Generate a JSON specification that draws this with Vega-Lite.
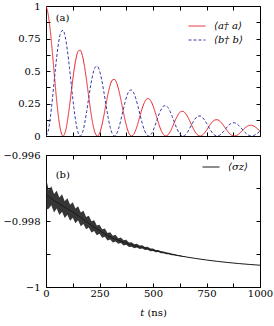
{
  "$schema": "https://vega.github.io/schema/vega-lite/v6.json",
  "padding": {"left": 2, "top": 0, "right": 13, "bottom": 6},
  "spacing": 7,
  "resolve": {"scale": {"color": "independent", "strokeDash": "independent"}, "legend": {"color": "independent", "strokeDash": "independent"}},
  "config": {
    "font": "DejaVu Serif",
    "view": {"stroke": "black", "strokeWidth": 1},
    "axis": {"domain": false, "grid": false, "ticks": true, "tickSize": -4, "tickColor": "black", "tickWidth": 1, "labelFont": "DejaVu Serif", "labelFontSize": 10, "labelColor": "black", "labelPadding": 5, "labelFlush": false, "labelOverlap": false, "labelBound": false, "titleFont": "DejaVu Serif", "titleFontSize": 10, "titleFontWeight": "normal", "titleColor": "black"},
    "axisLeft": {"labelPadding": 10},
    "legend": {"labelFont": "DejaVu Serif", "labelFontSize": 10, "labelColor": "black", "labelFontStyle": "italic", "symbolType": "stroke", "symbolSize": 289, "symbolStrokeWidth": 1, "orient": "none", "padding": 0, "rowPadding": -6, "labelOffset": 8, "title": null}
  },
  "vconcat": [
    {
      "width": 214,
      "height": 130,
      "resolve": {"axis": {"x": "independent", "y": "independent"}},
      "layer": [
        {
          "data": {"values": [
            {"t":0,"a":1,"b":0},{"t":10,"a":0.9373,"b":0.0371},{"t":20,"a":0.8103,"b":0.139},{"t":30,"a":0.6395,"b":0.2855},{"t":40,"a":0.4507,"b":0.4507},{"t":50,"a":0.2711,"b":0.6072},{"t":60,"a":0.1253,"b":0.7304},{"t":70,"a":0.0317,"b":0.802},{"t":80,"a":0,"b":0.8124},{"t":90,"a":0.0301,"b":0.7614},
            {"t":100,"a":0.113,"b":0.6583},{"t":110,"a":0.232,"b":0.5196},{"t":120,"a":0.3661,"b":0.3661},{"t":130,"a":0.4933,"b":0.2202},{"t":140,"a":0.5934,"b":0.1018},{"t":150,"a":0.6516,"b":0.0258},{"t":160,"a":0.66,"b":0},{"t":170,"a":0.6186,"b":0.0245},{"t":180,"a":0.5348,"b":0.0918},{"t":190,"a":0.4221,"b":0.1885},
            {"t":200,"a":0.2974,"b":0.2974},{"t":210,"a":0.1789,"b":0.4007},{"t":220,"a":0.0827,"b":0.4821},{"t":230,"a":0.0209,"b":0.5294},{"t":240,"a":0,"b":0.5362},{"t":250,"a":0.0199,"b":0.5026},{"t":260,"a":0.0746,"b":0.4345},{"t":270,"a":0.1531,"b":0.3429},{"t":280,"a":0.2416,"b":0.2416},{"t":290,"a":0.3256,"b":0.1453},
            {"t":300,"a":0.3916,"b":0.0672},{"t":310,"a":0.43,"b":0.017},{"t":320,"a":0.4356,"b":0},{"t":330,"a":0.4083,"b":0.0162},{"t":340,"a":0.353,"b":0.0606},{"t":350,"a":0.2786,"b":0.1244},{"t":360,"a":0.1963,"b":0.1963},{"t":370,"a":0.1181,"b":0.2645},{"t":380,"a":0.0546,"b":0.3182},{"t":390,"a":0.0138,"b":0.3494},
            {"t":400,"a":0,"b":0.3539},{"t":410,"a":0.0131,"b":0.3317},{"t":420,"a":0.0492,"b":0.2868},{"t":430,"a":0.101,"b":0.2263},{"t":440,"a":0.1595,"b":0.1595},{"t":450,"a":0.2149,"b":0.0959},{"t":460,"a":0.2585,"b":0.0444},{"t":470,"a":0.2838,"b":0.0112},{"t":480,"a":0.2875,"b":0},{"t":490,"a":0.2695,"b":0.0107},
            {"t":500,"a":0.233,"b":0.04},{"t":510,"a":0.1839,"b":0.0821},{"t":520,"a":0.1296,"b":0.1296},{"t":530,"a":0.0779,"b":0.1746},{"t":540,"a":0.036,"b":0.21},{"t":550,"a":0.0091,"b":0.2306},{"t":560,"a":0,"b":0.2336},{"t":570,"a":0.0087,"b":0.2189},{"t":580,"a":0.0325,"b":0.1893},{"t":590,"a":0.0667,"b":0.1494},
            {"t":600,"a":0.1053,"b":0.1053},{"t":610,"a":0.1418,"b":0.0633},{"t":620,"a":0.1706,"b":0.0293},{"t":630,"a":0.1873,"b":0.0074},{"t":640,"a":0.1898,"b":0},{"t":650,"a":0.1779,"b":0.007},{"t":660,"a":0.1538,"b":0.0264},{"t":670,"a":0.1214,"b":0.0542},{"t":680,"a":0.0855,"b":0.0855},{"t":690,"a":0.0514,"b":0.1152},
            {"t":700,"a":0.0238,"b":0.1386},{"t":710,"a":0.006,"b":0.1522},{"t":720,"a":0,"b":0.1542},{"t":730,"a":0.0057,"b":0.1445},{"t":740,"a":0.0214,"b":0.1249},{"t":750,"a":0.044,"b":0.0986},{"t":760,"a":0.0695,"b":0.0695},{"t":770,"a":0.0936,"b":0.0418},{"t":780,"a":0.1126,"b":0.0193},{"t":790,"a":0.1236,"b":0.0049},
            {"t":800,"a":0.1252,"b":0},{"t":810,"a":0.1174,"b":0.0046},{"t":820,"a":0.1015,"b":0.0174},{"t":830,"a":0.0801,"b":0.0358},{"t":840,"a":0.0564,"b":0.0564},{"t":850,"a":0.034,"b":0.076},{"t":860,"a":0.0157,"b":0.0915},{"t":870,"a":0.004,"b":0.1004},{"t":880,"a":0,"b":0.1017},{"t":890,"a":0.0038,"b":0.0954},
            {"t":900,"a":0.0142,"b":0.0824},{"t":910,"a":0.0291,"b":0.0651},{"t":920,"a":0.0459,"b":0.0459},{"t":930,"a":0.0618,"b":0.0276},{"t":940,"a":0.0743,"b":0.0128},{"t":950,"a":0.0816,"b":0.0032},{"t":960,"a":0.0827,"b":0},{"t":970,"a":0.0775,"b":0.0031},{"t":980,"a":0.067,"b":0.0115},{"t":990,"a":0.0529,"b":0.0236},
            {"t":1000,"a":0.0373,"b":0.0373}
          ]},
          "transform": [{"fold": ["a", "b"], "as": ["key", "value"]}],
          "mark": {"type": "line", "strokeWidth": 1, "interpolate": "monotone", "clip": true},
          "encoding": {
            "x": {"field": "t", "type": "quantitative", "scale": {"domain": [0, 1000], "nice": false},
                  "axis": {"orient": "bottom", "values": [0,125,250,375,500,625,750,875,1000], "labels": false, "title": null}},
            "y": {"field": "value", "type": "quantitative", "scale": {"domain": [0, 1], "nice": false},
                  "axis": {"orient": "left", "values": [0,0.125,0.25,0.375,0.5,0.625,0.75,0.875,1], "labelExpr": "round(datum.value*8) % 2 == 0 ? format(datum.value, '~g') : ''", "title": null}},
            "color": {"field": "key", "type": "nominal", "scale": {"domain": ["a", "b"], "range": ["#e8202a", "#3a3aa6"]},
                      "legend": {"labelExpr": "datum.label == 'a' ? '⟨a† a⟩' : '⟨b† b⟩'", "legendX": 142, "legendY": 11}},
            "strokeDash": {"field": "key", "type": "nominal", "scale": {"domain": ["a", "b"], "range": [[1, 0], [3, 2]]},
                      "legend": {"labelExpr": "datum.label == 'a' ? '⟨a† a⟩' : '⟨b† b⟩'", "legendX": 142, "legendY": 11}}
          }
        },
        {
          "data": {"values": [{"label": "(a)"}]},
          "mark": {"type": "text", "align": "left", "baseline": "middle", "fontSize": 10, "font": "DejaVu Serif", "color": "black"},
          "encoding": {
            "text": {"field": "label"},
            "x": {"datum": 45, "type": "quantitative", "scale": {"domain": [0, 1000], "nice": false},
                  "axis": {"orient": "top", "values": [0,125,250,375,500,625,750,875,1000], "labels": false, "title": null}},
            "y": {"datum": 0.905, "type": "quantitative", "scale": {"domain": [0, 1], "nice": false},
                  "axis": {"orient": "right", "values": [0,0.125,0.25,0.375,0.5,0.625,0.75,0.875,1], "labels": false, "title": null}}
          }
        }
      ]
    },
    {
      "width": 214,
      "height": 132,
      "resolve": {"axis": {"x": "independent", "y": "independent"}},
      "layer": [
        {
          "data": {"values": [
            {"t":0,"hi":-0.9967,"lo":-0.99765},
            {"t":12.5,"hi":-0.99706,"lo":-0.99763},
            {"t":25,"hi":-0.99695,"lo":-0.99752},
            {"t":37.5,"hi":-0.99718,"lo":-0.99774},
            {"t":50,"hi":-0.99708,"lo":-0.99762},
            {"t":62.5,"hi":-0.99729,"lo":-0.99782},
            {"t":75,"hi":-0.99719,"lo":-0.99772},
            {"t":87.5,"hi":-0.9974,"lo":-0.99791},
            {"t":100,"hi":-0.99731,"lo":-0.99781},
            {"t":112.5,"hi":-0.99751,"lo":-0.99799},
            {"t":125,"hi":-0.99743,"lo":-0.9979},
            {"t":137.5,"hi":-0.99762,"lo":-0.99807},
            {"t":150,"hi":-0.99755,"lo":-0.99798},
            {"t":162.5,"hi":-0.99774,"lo":-0.99816},
            {"t":175,"hi":-0.99769,"lo":-0.99809},
            {"t":187.5,"hi":-0.99788,"lo":-0.99825},
            {"t":200,"hi":-0.99784,"lo":-0.9982},
            {"t":212.5,"hi":-0.99801,"lo":-0.99835},
            {"t":225,"hi":-0.99798,"lo":-0.9983},
            {"t":237.5,"hi":-0.99814,"lo":-0.99843},
            {"t":250,"hi":-0.99811,"lo":-0.99839},
            {"t":262.5,"hi":-0.99825,"lo":-0.99851},
            {"t":275,"hi":-0.99823,"lo":-0.99848},
            {"t":287.5,"hi":-0.99836,"lo":-0.99859},
            {"t":300,"hi":-0.99834,"lo":-0.99856},
            {"t":312.5,"hi":-0.99845,"lo":-0.99865},
            {"t":325,"hi":-0.99842,"lo":-0.99862},
            {"t":337.5,"hi":-0.99852,"lo":-0.99869},
            {"t":350,"hi":-0.9985,"lo":-0.99867},
            {"t":362.5,"hi":-0.99858,"lo":-0.99874},
            {"t":375,"hi":-0.99857,"lo":-0.99872},
            {"t":387.5,"hi":-0.99865,"lo":-0.99879},
            {"t":400,"hi":-0.998645,"lo":-0.998777},
            {"t":412.5,"hi":-0.998703,"lo":-0.998827},
            {"t":425,"hi":-0.998689,"lo":-0.998805},
            {"t":437.5,"hi":-0.998744,"lo":-0.998852},
            {"t":450,"hi":-0.998735,"lo":-0.998836},
            {"t":462.5,"hi":-0.998787,"lo":-0.99888},
            {"t":475,"hi":-0.998783,"lo":-0.998871},
            {"t":487.5,"hi":-0.998831,"lo":-0.998913},
            {"t":500,"hi":-0.99883,"lo":-0.998908},
            {"t":512.5,"hi":-0.998875,"lo":-0.998946},
            {"t":525,"hi":-0.998878,"lo":-0.998943},
            {"t":537.5,"hi":-0.998917,"lo":-0.998976},
            {"t":550,"hi":-0.998922,"lo":-0.998976},
            {"t":562.5,"hi":-0.998956,"lo":-0.999006},
            {"t":575,"hi":-0.998961,"lo":-0.999007},
            {"t":587.5,"hi":-0.998993,"lo":-0.999035},
            {"t":600,"hi":-0.999,"lo":-0.999039},
            {"t":612.5,"hi":-0.999028,"lo":-0.999062},
            {"t":625,"hi":-0.999035,"lo":-0.999066},
            {"t":637.5,"hi":-0.999061,"lo":-0.999087},
            {"t":650,"hi":-0.999069,"lo":-0.999092}
          ]},
          "mark": {"type": "area", "color": "#1a1a1a", "opacity": 0.88, "interpolate": "linear"},
          "encoding": {
            "x": {"field": "t", "type": "quantitative", "scale": {"domain": [0, 1000], "nice": false},
                  "axis": {"orient": "bottom", "values": [0,125,250,375,500,625,750,875,1000], "labelExpr": "datum.value % 250 == 0 ? format(datum.value, 'd') : ''", "title": "𝑡 (ns)", "titlePadding": 9}},
            "y": {"field": "hi", "type": "quantitative", "scale": {"domain": [-1, -0.996], "nice": false},
                  "axis": {"orient": "left", "values": [-1,-0.999,-0.998,-0.997,-0.996], "labelExpr": "round(datum.value*1000) % 2 == 0 ? format(datum.value, '~g') : ''", "title": null}},
            "y2": {"field": "lo"}
          }
        },
        {
          "data": {"values": [
            {"t":0,"s":-0.9972},{"t":12.5,"s":-0.99726},{"t":25,"s":-0.99732},{"t":37.5,"s":-0.99738},{"t":50,"s":-0.99743},{"t":62.5,"s":-0.99748},{"t":75,"s":-0.99753},{"t":87.5,"s":-0.99758},
            {"t":100,"s":-0.99763},{"t":112.5,"s":-0.99768},{"t":125,"s":-0.99773},{"t":137.5,"s":-0.99778},{"t":150,"s":-0.99783},{"t":162.5,"s":-0.99789},{"t":175,"s":-0.99795},{"t":187.5,"s":-0.99801},
            {"t":200,"s":-0.99807},{"t":212.5,"s":-0.99813},{"t":225,"s":-0.99819},{"t":237.5,"s":-0.99824},{"t":250,"s":-0.99829},{"t":262.5,"s":-0.99834},{"t":275,"s":-0.99839},{"t":287.5,"s":-0.99844},
            {"t":300,"s":-0.99848},{"t":312.5,"s":-0.99852},{"t":325,"s":-0.99855},{"t":337.5,"s":-0.99858},{"t":350,"s":-0.99861},{"t":362.5,"s":-0.99864},{"t":375,"s":-0.99867},{"t":387.5,"s":-0.9987},
            {"t":400,"s":-0.99873},{"t":412.5,"s":-0.998747},{"t":425,"s":-0.998764},{"t":437.5,"s":-0.998782},{"t":450,"s":-0.9988},{"t":462.5,"s":-0.99882},{"t":475,"s":-0.99884},{"t":487.5,"s":-0.99886},
            {"t":500,"s":-0.99888},{"t":512.5,"s":-0.9989},{"t":525,"s":-0.99892},{"t":537.5,"s":-0.998938},{"t":550,"s":-0.998957},{"t":562.5,"s":-0.998974},{"t":575,"s":-0.998991},{"t":587.5,"s":-0.999008},
            {"t":600,"s":-0.999025},{"t":612.5,"s":-0.99904},{"t":625,"s":-0.999055},{"t":637.5,"s":-0.99907},{"t":650,"s":-0.999084},
            {"t":700,"s":-0.999136},{"t":750,"s":-0.999182},{"t":800,"s":-0.999222},{"t":850,"s":-0.999258},{"t":900,"s":-0.999289},{"t":950,"s":-0.999316},{"t":1000,"s":-0.99934}
          ]},
          "mark": {"type": "line", "strokeWidth": 1, "interpolate": "monotone"},
          "encoding": {
            "x": {"field": "t", "type": "quantitative", "scale": {"domain": [0, 1000], "nice": false}, "axis": null},
            "y": {"field": "s", "type": "quantitative", "scale": {"domain": [-1, -0.996], "nice": false}, "axis": null},
            "color": {"datum": "⟨σz⟩", "type": "nominal", "scale": {"domain": ["⟨σz⟩"], "range": ["#1a1a1a"]},
                      "legend": {"legendX": 156, "legendY": 3}}
          }
        },
        {
          "data": {"values": [{"label": "(b)"}]},
          "mark": {"type": "text", "align": "left", "baseline": "middle", "fontSize": 10, "font": "DejaVu Serif", "color": "black"},
          "encoding": {
            "text": {"field": "label"},
            "x": {"datum": 45, "type": "quantitative", "scale": {"domain": [0, 1000], "nice": false},
                  "axis": {"orient": "top", "values": [0,125,250,375,500,625,750,875,1000], "labels": false, "title": null}},
            "y": {"datum": -0.99661, "type": "quantitative", "scale": {"domain": [-1, -0.996], "nice": false},
                  "axis": {"orient": "right", "values": [-1,-0.999,-0.998,-0.997,-0.996], "labels": false, "title": null}}
          }
        }
      ]
    }
  ]
}
